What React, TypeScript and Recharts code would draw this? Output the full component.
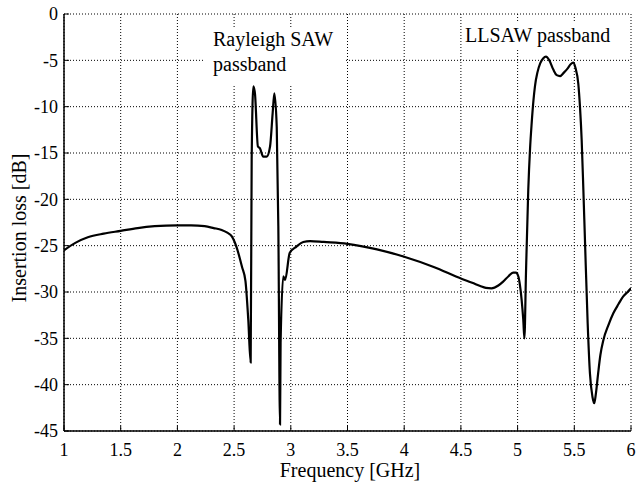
import React from 'react';
import { LineChart, Line, XAxis, YAxis, CartesianGrid, Label } from 'recharts';

// insertion loss
const freqGHz = [
  1.0, 1.1, 1.21, 1.35, 1.5, 1.65, 1.8, 2.0, 2.12, 2.24, 2.32, 2.39, 2.44, 2.48, 2.52, 2.57,
  2.6, 2.625, 2.646, 2.655, 2.67, 2.684, 2.71, 2.728, 2.757, 2.787, 2.817, 2.84, 2.855, 2.876,
  2.89, 2.905, 2.91, 2.934, 2.95, 2.99, 3.05, 3.11, 3.17, 3.29, 3.5, 3.76, 4.0, 4.26, 4.51,
  4.6, 4.67, 4.72, 4.77, 4.83, 4.87, 4.92, 4.96, 4.985, 5.006, 5.02, 5.036, 5.05, 5.06, 5.074,
  5.094, 5.11, 5.124, 5.14, 5.153, 5.175, 5.2, 5.225, 5.25, 5.28, 5.315, 5.345, 5.374, 5.41,
  5.44, 5.47, 5.49, 5.51, 5.535, 5.55, 5.565, 5.58, 5.594, 5.618, 5.638, 5.66, 5.676, 5.69,
  5.71, 5.73, 5.756, 5.8, 5.844, 5.89, 5.93, 5.97, 6.0,
];
const lossDb = [
  -25.5, -24.7, -24.1, -23.7, -23.4, -23.1, -22.9, -22.8, -22.8, -22.9, -23.1, -23.3, -23.6,
  -24.0, -25.1, -27.3, -28.8, -33.0, -37.6, -15.7, -7.8, -8.6, -14.3, -14.5, -15.4, -15.4,
  -14.3, -10.7, -8.55, -12.2, -22.9, -44.3, -35.5, -28.3, -28.7, -25.8, -25.1, -24.6, -24.5,
  -24.6, -24.8, -25.4, -26.2, -27.3, -28.6, -29.0, -29.35, -29.55, -29.6, -29.3, -28.9, -28.3,
  -27.9, -27.9, -28.3, -29.2, -30.9, -33.0, -35.0, -27.9, -19.0, -14.5, -11.8, -9.3, -7.8,
  -6.3, -5.3, -4.8, -4.6, -5.0, -6.0, -6.6, -6.7, -6.3, -5.9, -5.4, -5.25, -5.8, -7.5, -10.0,
  -13.6, -19.0, -24.4, -33.4, -38.8, -41.3, -42.0, -41.0, -38.8, -36.8, -35.2, -33.6, -32.3,
  -31.3, -30.5, -30.0, -29.6,
];
const freqTicks = [1, 1.5, 2, 2.5, 3, 3.5, 4, 4.5, 5, 5.5, 6];
const lossTicks = [-45, -40, -35, -30, -25, -20, -15, -10, -5, 0];

const data = freqGHz.map((f, i) => ({ freq: f, loss: lossDb[i] }));

const FONT = '"Liberation Serif", "Times New Roman", serif';
const TICK_LEN = 5;
const X_GAP = 11;
const Y_GAP = 6;

const BottomTick = ({ x, y, payload }: any) => (
  <g>
    <line x1={x} y1={y - X_GAP} x2={x} y2={y - X_GAP - TICK_LEN} stroke="#000" />
    <text x={x} y={y} dy="0.75em" textAnchor="middle" fontFamily={FONT} fontSize={18} fill="#000">
      {payload.value}
    </text>
  </g>
);

const LeftTick = ({ x, y, payload }: any) => (
  <g>
    <line x1={x + Y_GAP} y1={y} x2={x + Y_GAP + TICK_LEN} y2={y} stroke="#000" />
    <text x={x} y={y} dy="0.35em" textAnchor="end" fontFamily={FONT} fontSize={18} fill="#000">
      {payload.value}
    </text>
  </g>
);

const TopTick = ({ x, y }: any) => (
  <line x1={x} y1={y} x2={x} y2={y + TICK_LEN} stroke="#000" />
);

const RightTick = ({ x, y }: any) => (
  <line x1={x} y1={y} x2={x - TICK_LEN} y2={y} stroke="#000" />
);

const noteStyle: React.CSSProperties = {
  position: 'absolute',
  background: '#fff',
  fontFamily: FONT,
  fontSize: 20,
  lineHeight: '25px',
  color: '#000',
  whiteSpace: 'nowrap',
};

const App: React.FC = () => {
  return (
    <div style={{ position: 'absolute', left: 0, top: 0, width: 636, height: 486, background: '#fff' }}>
      <LineChart width={636} height={486} data={data} margin={{ top: 14, right: 5, bottom: 0, left: 10 }}>
        <CartesianGrid stroke="#000" strokeDasharray="1 2" strokeWidth={1} />
        <XAxis
          dataKey="freq"
          type="number"
          domain={[1, 6]}
          ticks={freqTicks}
          height={55}
          tickSize={0}
          tickMargin={X_GAP}
          tickLine={false}
          axisLine={{ stroke: '#000', strokeWidth: 1.5 }}
          tick={<BottomTick />}
          allowDataOverflow
        >
          <Label
            content={() => (
              <text x={350} y={477} textAnchor="middle" fontFamily={FONT} fontSize={20} fill="#000">
                Frequency [GHz]
              </text>
            )}
          />
        </XAxis>
        <XAxis
          xAxisId="top"
          orientation="top"
          dataKey="freq"
          type="number"
          domain={[1, 6]}
          ticks={freqTicks}
          height={0}
          tickSize={0}
          tickMargin={0}
          tickLine={false}
          axisLine={{ stroke: '#000', strokeWidth: 1.5 }}
          tick={<TopTick />}
          allowDataOverflow
        />
        <YAxis
          type="number"
          domain={[-45, 0]}
          ticks={lossTicks}
          width={54}
          tickSize={0}
          tickMargin={Y_GAP}
          tickLine={false}
          axisLine={{ stroke: '#000', strokeWidth: 1.5 }}
          tick={<LeftTick />}
          allowDataOverflow
        >
          <Label
            content={() => (
              <text
                x={-228}
                y={26}
                transform="rotate(-90)"
                textAnchor="middle"
                fontFamily={FONT}
                fontSize={20}
                fill="#000"
              >
                Insertion loss [dB]
              </text>
            )}
          />
        </YAxis>
        <YAxis
          yAxisId="right"
          orientation="right"
          type="number"
          domain={[-45, 0]}
          ticks={lossTicks}
          width={0}
          tickSize={0}
          tickMargin={0}
          tickLine={false}
          axisLine={{ stroke: '#000', strokeWidth: 1.5 }}
          tick={<RightTick />}
          allowDataOverflow
        />
        <Line
          type="monotone"
          dataKey="loss"
          stroke="#000"
          strokeWidth={2.2}
          dot={false}
          isAnimationActive={false}
        />
      </LineChart>
      <div style={{ ...noteStyle, left: 203, top: 27, width: 142, height: 57, paddingLeft: 10, boxSizing: 'border-box' }}>
        Rayleigh SAW
        <br />
        passband
      </div>
      <div style={{ ...noteStyle, left: 462, top: 23, width: 158, height: 27, paddingLeft: 3, boxSizing: 'border-box' }}>
        LLSAW passband
      </div>
    </div>
  );
};

export default App;
